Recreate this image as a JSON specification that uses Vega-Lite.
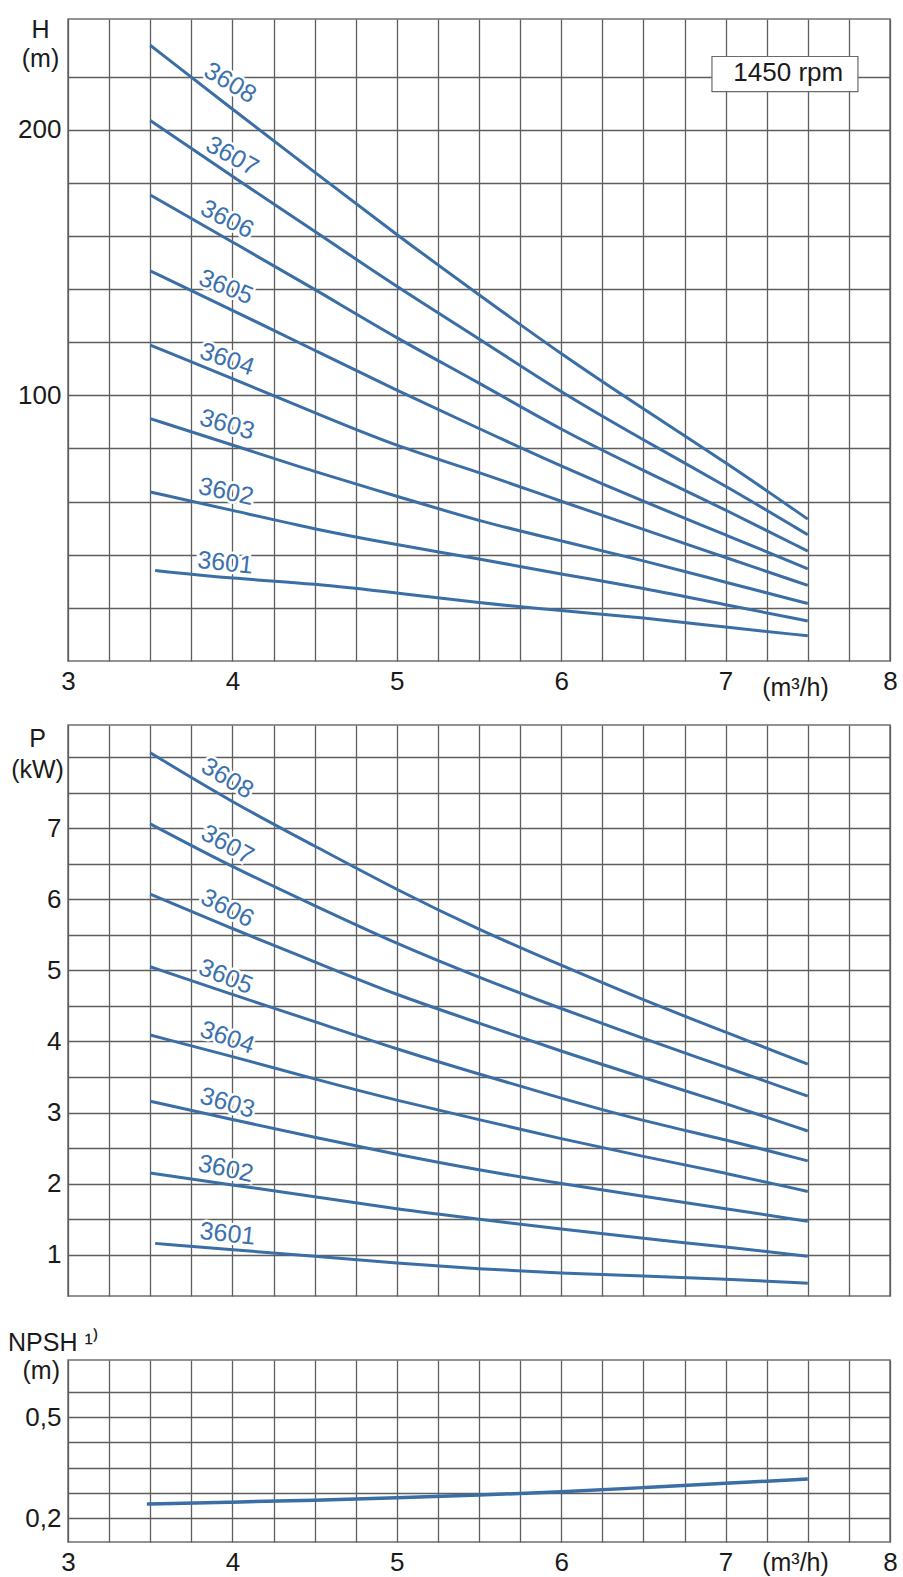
{
  "$schema": "https://vega.github.io/schema/vega-lite/v6.json",
  "autosize": {"type": "pad"},
  "padding": {"left": 7, "top": 16, "right": 0, "bottom": 0},
  "background": "white",
  "bounds": "flush",
  "spacing": 64,
  "config": {
    "font": "Liberation Sans",
    "view": {"stroke": "#707070", "strokeWidth": 1.5},
    "axis": {
      "grid": true, "gridColor": "#5e5e5e", "gridWidth": 1.3, "gridOpacity": 1,
      "domain": false, "ticks": false, "tickSize": 0,
      "labelFont": "Liberation Sans", "labelFontSize": 26, "labelColor": "#1a1a1a",
      "labelOverlap": false, "labelFlush": false, "labelPadding": 7,
      "titleFont": "Liberation Sans", "titleFontSize": 25, "titleFontWeight": "normal", "titleColor": "#1a1a1a"
    }
  },
  "datasets": {
    "head": [
      {"model": "3608", "q": 3.5, "v": 249.3}, {"model": "3608", "q": 4.0, "v": 211}, {"model": "3608", "q": 4.5, "v": 179}, {"model": "3608", "q": 5.0, "v": 152}, {"model": "3608", "q": 5.5, "v": 130}, {"model": "3608", "q": 6.0, "v": 111.3}, {"model": "3608", "q": 6.5, "v": 96.5}, {"model": "3608", "q": 7.0, "v": 84.0}, {"model": "3608", "q": 7.5, "v": 72.4},
      {"model": "3607", "q": 3.5, "v": 204.9}, {"model": "3607", "q": 4.0, "v": 177}, {"model": "3607", "q": 4.5, "v": 153.5}, {"model": "3607", "q": 5.0, "v": 132.7}, {"model": "3607", "q": 5.5, "v": 116}, {"model": "3607", "q": 6.0, "v": 100.7}, {"model": "3607", "q": 6.5, "v": 89}, {"model": "3607", "q": 7.0, "v": 79}, {"model": "3607", "q": 7.5, "v": 69.5},
      {"model": "3606", "q": 3.5, "v": 168.7}, {"model": "3606", "q": 4.0, "v": 149.2}, {"model": "3606", "q": 4.5, "v": 132}, {"model": "3606", "q": 5.0, "v": 116}, {"model": "3606", "q": 5.5, "v": 103.4}, {"model": "3606", "q": 6.0, "v": 91.3}, {"model": "3606", "q": 6.5, "v": 82.2}, {"model": "3606", "q": 7.0, "v": 74.2}, {"model": "3606", "q": 7.5, "v": 66.6},
      {"model": "3605", "q": 3.5, "v": 138.4}, {"model": "3605", "q": 4.0, "v": 124.9}, {"model": "3605", "q": 4.5, "v": 112.5}, {"model": "3605", "q": 5.0, "v": 101.3}, {"model": "3605", "q": 5.5, "v": 91.7}, {"model": "3605", "q": 6.0, "v": 83.1}, {"model": "3605", "q": 6.5, "v": 75.8}, {"model": "3605", "q": 7.0, "v": 69.5}, {"model": "3605", "q": 7.5, "v": 63.6},
      {"model": "3604", "q": 3.5, "v": 114}, {"model": "3604", "q": 4.0, "v": 104.5}, {"model": "3604", "q": 4.5, "v": 95.6}, {"model": "3604", "q": 5.0, "v": 87.5}, {"model": "3604", "q": 5.5, "v": 81.9}, {"model": "3604", "q": 6.0, "v": 75.8}, {"model": "3604", "q": 6.5, "v": 70.5}, {"model": "3604", "q": 7.0, "v": 65.5}, {"model": "3604", "q": 7.5, "v": 60.9},
      {"model": "3603", "q": 3.5, "v": 94.1}, {"model": "3603", "q": 4.0, "v": 87.9}, {"model": "3603", "q": 4.5, "v": 81.9}, {"model": "3603", "q": 5.0, "v": 76.9}, {"model": "3603", "q": 5.5, "v": 72.0}, {"model": "3603", "q": 6.0, "v": 68.4}, {"model": "3603", "q": 6.5, "v": 65.0}, {"model": "3603", "q": 7.0, "v": 61.4}, {"model": "3603", "q": 7.5, "v": 58.1},
      {"model": "3602", "q": 3.5, "v": 77.7}, {"model": "3602", "q": 4.0, "v": 74.1}, {"model": "3602", "q": 4.5, "v": 70.5}, {"model": "3602", "q": 5.0, "v": 67.7}, {"model": "3602", "q": 5.5, "v": 65.3}, {"model": "3602", "q": 6.0, "v": 62.7}, {"model": "3602", "q": 6.5, "v": 60.5}, {"model": "3602", "q": 7.0, "v": 57.9}, {"model": "3602", "q": 7.5, "v": 55.5},
      {"model": "3601", "q": 3.53, "v": 63.3}, {"model": "3601", "q": 4.0, "v": 62.0}, {"model": "3601", "q": 4.5, "v": 61.2}, {"model": "3601", "q": 5.0, "v": 59.7}, {"model": "3601", "q": 5.5, "v": 58.2}, {"model": "3601", "q": 6.0, "v": 57.0}, {"model": "3601", "q": 6.5, "v": 56.0}, {"model": "3601", "q": 7.0, "v": 54.6}, {"model": "3601", "q": 7.5, "v": 53.4}
    ],
    "power": [
      {"model": "3608", "q": 3.5, "v": 8.06}, {"model": "3608", "q": 4.0, "v": 7.36}, {"model": "3608", "q": 4.5, "v": 6.75}, {"model": "3608", "q": 5.0, "v": 6.13}, {"model": "3608", "q": 5.5, "v": 5.57}, {"model": "3608", "q": 6.0, "v": 5.07}, {"model": "3608", "q": 6.5, "v": 4.58}, {"model": "3608", "q": 7.0, "v": 4.13}, {"model": "3608", "q": 7.5, "v": 3.68},
      {"model": "3607", "q": 3.5, "v": 7.06}, {"model": "3607", "q": 4.0, "v": 6.45}, {"model": "3607", "q": 4.5, "v": 5.91}, {"model": "3607", "q": 5.0, "v": 5.37}, {"model": "3607", "q": 5.5, "v": 4.90}, {"model": "3607", "q": 6.0, "v": 4.46}, {"model": "3607", "q": 6.5, "v": 4.04}, {"model": "3607", "q": 7.0, "v": 3.64}, {"model": "3607", "q": 7.5, "v": 3.23},
      {"model": "3606", "q": 3.5, "v": 6.07}, {"model": "3606", "q": 4.0, "v": 5.585}, {"model": "3606", "q": 4.5, "v": 5.12}, {"model": "3606", "q": 5.0, "v": 4.65}, {"model": "3606", "q": 5.5, "v": 4.26}, {"model": "3606", "q": 6.0, "v": 3.86}, {"model": "3606", "q": 6.5, "v": 3.49}, {"model": "3606", "q": 7.0, "v": 3.13}, {"model": "3606", "q": 7.5, "v": 2.74},
      {"model": "3605", "q": 3.5, "v": 5.05}, {"model": "3605", "q": 4.0, "v": 4.66}, {"model": "3605", "q": 4.5, "v": 4.28}, {"model": "3605", "q": 5.0, "v": 3.89}, {"model": "3605", "q": 5.5, "v": 3.54}, {"model": "3605", "q": 6.0, "v": 3.20}, {"model": "3605", "q": 6.5, "v": 2.88}, {"model": "3605", "q": 7.0, "v": 2.62}, {"model": "3605", "q": 7.5, "v": 2.32},
      {"model": "3604", "q": 3.5, "v": 4.09}, {"model": "3604", "q": 4.0, "v": 3.79}, {"model": "3604", "q": 4.5, "v": 3.47}, {"model": "3604", "q": 5.0, "v": 3.17}, {"model": "3604", "q": 5.5, "v": 2.90}, {"model": "3604", "q": 6.0, "v": 2.63}, {"model": "3604", "q": 6.5, "v": 2.38}, {"model": "3604", "q": 7.0, "v": 2.15}, {"model": "3604", "q": 7.5, "v": 1.89},
      {"model": "3603", "q": 3.5, "v": 3.16}, {"model": "3603", "q": 4.0, "v": 2.90}, {"model": "3603", "q": 4.5, "v": 2.65}, {"model": "3603", "q": 5.0, "v": 2.41}, {"model": "3603", "q": 5.5, "v": 2.19}, {"model": "3603", "q": 6.0, "v": 2.00}, {"model": "3603", "q": 6.5, "v": 1.82}, {"model": "3603", "q": 7.0, "v": 1.65}, {"model": "3603", "q": 7.5, "v": 1.47},
      {"model": "3602", "q": 3.5, "v": 2.15}, {"model": "3602", "q": 4.0, "v": 1.98}, {"model": "3602", "q": 4.5, "v": 1.82}, {"model": "3602", "q": 5.0, "v": 1.64}, {"model": "3602", "q": 5.5, "v": 1.50}, {"model": "3602", "q": 6.0, "v": 1.36}, {"model": "3602", "q": 6.5, "v": 1.23}, {"model": "3602", "q": 7.0, "v": 1.11}, {"model": "3602", "q": 7.5, "v": 0.98},
      {"model": "3601", "q": 3.53, "v": 1.16}, {"model": "3601", "q": 4.0, "v": 1.07}, {"model": "3601", "q": 4.5, "v": 0.98}, {"model": "3601", "q": 5.0, "v": 0.88}, {"model": "3601", "q": 5.5, "v": 0.80}, {"model": "3601", "q": 6.0, "v": 0.74}, {"model": "3601", "q": 6.5, "v": 0.70}, {"model": "3601", "q": 7.0, "v": 0.66}, {"model": "3601", "q": 7.5, "v": 0.60}
    ],
    "npsh": [
      {"q": 3.48, "v": 0.228}, {"q": 4.0, "v": 0.2315}, {"q": 4.5, "v": 0.2358}, {"q": 5.0, "v": 0.2409}, {"q": 5.5, "v": 0.2469}, {"q": 6.0, "v": 0.2539}, {"q": 6.5, "v": 0.2642}, {"q": 7.0, "v": 0.2749}, {"q": 7.5, "v": 0.2853}
    ],
    "headLabels": [
      {"model": "3608", "stage": 8, "q": 3.987, "v": 226.1},
      {"model": "3607", "stage": 7, "q": 3.999, "v": 186.8},
      {"model": "3606", "stage": 6, "q": 3.968, "v": 158.4},
      {"model": "3605", "stage": 5, "q": 3.962, "v": 132.7},
      {"model": "3604", "stage": 4, "q": 3.968, "v": 109.9},
      {"model": "3603", "stage": 3, "q": 3.968, "v": 92.7},
      {"model": "3602", "stage": 2, "q": 3.962, "v": 77.8},
      {"model": "3601", "stage": 1, "q": 3.956, "v": 64.6}
    ],
    "powerLabels": [
      {"model": "3608", "stage": 8, "q": 3.97, "v": 7.70},
      {"model": "3607", "stage": 7, "q": 3.97, "v": 6.77},
      {"model": "3606", "stage": 6, "q": 3.97, "v": 5.875},
      {"model": "3605", "stage": 5, "q": 3.96, "v": 4.913},
      {"model": "3604", "stage": 4, "q": 3.97, "v": 4.057},
      {"model": "3603", "stage": 3, "q": 3.97, "v": 3.137},
      {"model": "3602", "stage": 2, "q": 3.96, "v": 2.211},
      {"model": "3601", "stage": 1, "q": 3.97, "v": 1.295}
    ],
    "rpm": [
      {"q": 6.917, "q2": 7.805, "v": 220.9, "v2": 242.1, "label": "1450 rpm", "qc": 7.381, "vc": 232.0}
    ]
  },
  "vconcat": [
    {
      "width": 822,
      "height": 642,
      "encoding": {
        "x": {
          "field": "q", "type": "quantitative",
          "scale": {"domain": [3, 8], "nice": false, "zero": false},
          "axis": {
            "values": [3, 3.25, 3.5, 3.75, 4, 4.25, 4.5, 4.75, 5, 5.25, 5.5, 5.75, 6, 6.25, 6.5, 6.75, 7, 7.25, 7.5, 7.75, 8],
            "labelExpr": "datum.value % 1 === 0 ? format(datum.value, 'd') : ''",
            "title": "(m³/h)", "titleAngle": 0, "titleAlign": "center", "titleBaseline": "alphabetic",
            "titleX": 727, "titleY": 34
          }
        },
        "y": {
          "field": "v", "type": "quantitative",
          "scale": {"type": "log", "domain": [50, 267], "nice": false},
          "axis": {
            "values": [57.43, 65.98, 75.79, 87.06, 100, 114.87, 131.95, 151.57, 174.11, 200, 229.74],
            "labelExpr": "datum.value === 100 ? '100' : datum.value === 200 ? '200' : ''",
            "title": ["H", "(m)"], "titleAngle": 0, "titleAlign": "center", "titleBaseline": "alphabetic",
            "titleX": -28, "titleY": 18, "titleLineHeight": 29
          }
        }
      },
      "layer": [
        {
          "data": {"name": "head"},
          "mark": {"type": "line", "color": "#3a6ea5", "strokeWidth": 3, "interpolate": "basis"},
          "encoding": {"detail": {"field": "model", "type": "nominal"}}
        },
        {
          "data": {"name": "headLabels"},
          "mark": {"type": "text", "fontSize": 25, "fill": "white", "stroke": "white", "strokeWidth": 5, "align": "center", "baseline": "middle"},
          "encoding": {
            "text": {"field": "model", "type": "nominal"},
            "angle": {"field": "stage", "type": "quantitative", "scale": {"domain": [1, 2, 3, 4, 5, 6, 7, 8], "range": [6, 12, 16, 19, 22, 27, 29, 31]}, "legend": null}
          }
        },
        {
          "data": {"name": "headLabels"},
          "mark": {"type": "text", "fontSize": 25, "fill": "#3b72ad", "align": "center", "baseline": "middle"},
          "encoding": {
            "text": {"field": "model", "type": "nominal"},
            "angle": {"field": "stage", "type": "quantitative", "scale": {"domain": [1, 2, 3, 4, 5, 6, 7, 8], "range": [6, 12, 16, 19, 22, 27, 29, 31]}, "legend": null}
          }
        },
        {
          "data": {"name": "rpm"},
          "mark": {"type": "rect", "fill": "white", "stroke": "#6a6a6a", "strokeWidth": 1.2},
          "encoding": {"x2": {"field": "q2"}, "y2": {"field": "v2"}}
        },
        {
          "data": {"name": "rpm"},
          "mark": {"type": "text", "fontSize": 26, "fill": "#1a1a1a", "align": "center", "baseline": "middle"},
          "encoding": {
            "x": {"field": "qc", "type": "quantitative"},
            "y": {"field": "vc", "type": "quantitative"},
            "text": {"field": "label", "type": "nominal"}
          }
        }
      ]
    },
    {
      "width": 822,
      "height": 571,
      "encoding": {
        "x": {
          "field": "q", "type": "quantitative",
          "scale": {"domain": [3, 8], "nice": false, "zero": false},
          "axis": {
            "values": [3, 3.25, 3.5, 3.75, 4, 4.25, 4.5, 4.75, 5, 5.25, 5.5, 5.75, 6, 6.25, 6.5, 6.75, 7, 7.25, 7.5, 7.75, 8],
            "labels": false, "title": null
          }
        },
        "y": {
          "field": "v", "type": "quantitative",
          "scale": {"domain": [0.42, 8.45], "nice": false, "zero": false},
          "axis": {
            "values": [1, 1.5, 2, 2.5, 3, 3.5, 4, 4.5, 5, 5.5, 6, 6.5, 7, 7.5, 8],
            "labelExpr": "datum.value % 1 === 0 && datum.value < 8 ? format(datum.value, 'd') : ''",
            "title": ["P", "(kW)"], "titleAngle": 0, "titleAlign": "center", "titleBaseline": "alphabetic",
            "titleX": -31, "titleY": 21, "titleLineHeight": 31
          }
        }
      },
      "layer": [
        {
          "data": {"name": "power"},
          "mark": {"type": "line", "color": "#3a6ea5", "strokeWidth": 3, "interpolate": "basis"},
          "encoding": {"detail": {"field": "model", "type": "nominal"}}
        },
        {
          "data": {"name": "powerLabels"},
          "mark": {"type": "text", "fontSize": 25, "fill": "white", "stroke": "white", "strokeWidth": 5, "align": "center", "baseline": "middle"},
          "encoding": {
            "text": {"field": "model", "type": "nominal"},
            "angle": {"field": "stage", "type": "quantitative", "scale": {"domain": [1, 2, 3, 4, 5, 6, 7, 8], "range": [5, 11, 16, 19, 19, 24, 25, 28]}, "legend": null}
          }
        },
        {
          "data": {"name": "powerLabels"},
          "mark": {"type": "text", "fontSize": 25, "fill": "#3b72ad", "align": "center", "baseline": "middle"},
          "encoding": {
            "text": {"field": "model", "type": "nominal"},
            "angle": {"field": "stage", "type": "quantitative", "scale": {"domain": [1, 2, 3, 4, 5, 6, 7, 8], "range": [5, 11, 16, 19, 19, 24, 25, 28]}, "legend": null}
          }
        }
      ]
    },
    {
      "width": 822,
      "height": 182,
      "title": {
        "text": "NPSH ¹⁾", "anchor": "start", "frame": "group", "dx": -60, "offset": -23,
        "baseline": "bottom", "font": "Liberation Sans", "fontSize": 25, "fontWeight": "normal", "color": "#1a1a1a"
      },
      "data": {"name": "npsh"},
      "mark": {"type": "line", "color": "#3a6ea5", "strokeWidth": 3.5, "interpolate": "basis"},
      "encoding": {
        "x": {
          "field": "q", "type": "quantitative",
          "scale": {"domain": [3, 8], "nice": false, "zero": false},
          "axis": {
            "values": [3, 3.25, 3.5, 3.75, 4, 4.25, 4.5, 4.75, 5, 5.25, 5.5, 5.75, 6, 6.25, 6.5, 6.75, 7, 7.25, 7.5, 7.75, 8],
            "labelExpr": "datum.value % 1 === 0 ? format(datum.value, 'd') : ''",
            "title": "(m³/h)", "titleAngle": 0, "titleAlign": "center", "titleBaseline": "alphabetic",
            "titleX": 727, "titleY": 28
          }
        },
        "y": {
          "field": "v", "type": "quantitative",
          "scale": {"type": "log", "domain": [0.1616, 0.837], "nice": false},
          "axis": {
            "values": [0.2, 0.2515, 0.3162, 0.3976, 0.5, 0.6287],
            "labelExpr": "datum.value === 0.2 ? '0,2' : datum.value === 0.5 ? '0,5' : ''",
            "title": "(m)", "titleAngle": 0, "titleAlign": "left", "titleBaseline": "alphabetic",
            "titleX": -46, "titleY": 18
          }
        }
      }
    }
  ]
}
